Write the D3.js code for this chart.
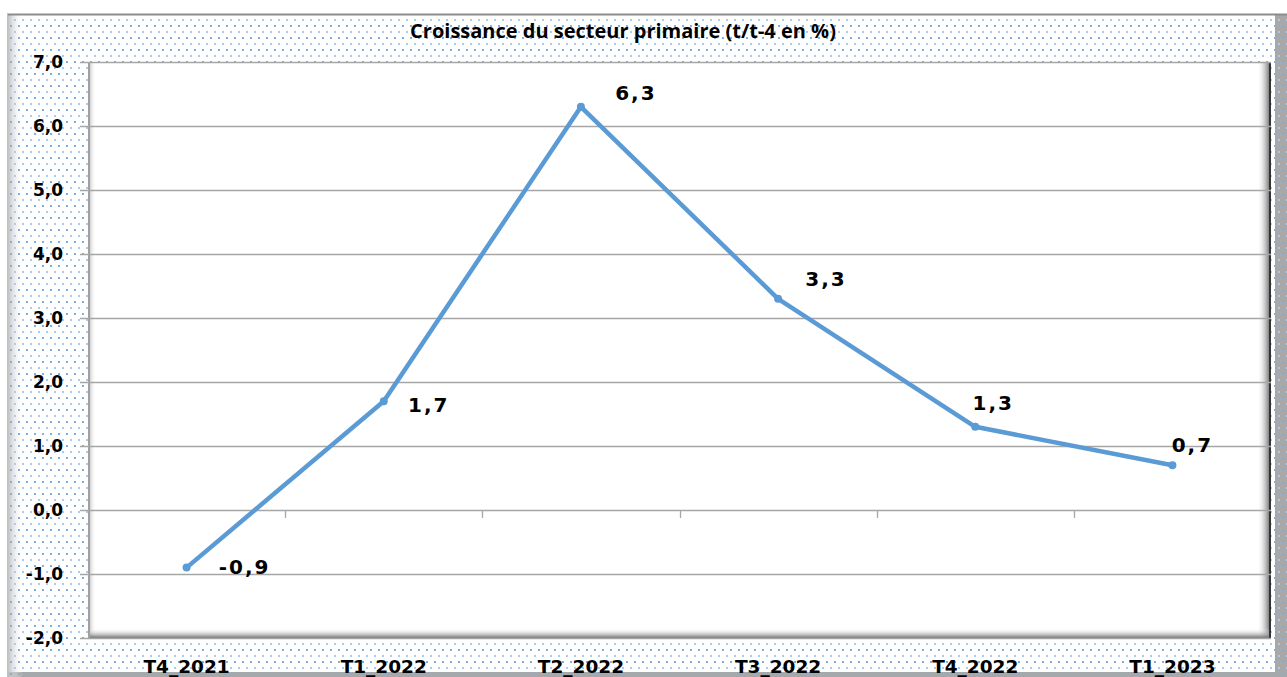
<!DOCTYPE html>
<html lang="fr">
<head>
<meta charset="utf-8">
<script src="https://d3js.org/d3.v7.min.js"></script>
<style>
  body { margin: 0; background: #fff; }
  text { font-family: "DejaVu Sans", sans-serif; font-weight: bold; fill: #000; }
  text.title { font-family: "Open Sans", sans-serif; }
</style>
</head>
<body>
<svg id="chart" width="1287" height="677"></svg>
<script>
// data
const categories = ["T4_2021", "T1_2022", "T2_2022", "T3_2022", "T4_2022", "T1_2023"];
const values = [-0.9, 1.7, 6.3, 3.3, 1.3, 0.7];
const yTicks = [-2, -1, 0, 1, 2, 3, 4, 5, 6, 7];
const title = "Croissance du secteur primaire (t/t-4 en %)";
// label placement (dx, dy from the point), as set by hand in the original
const labelOffsets = [[58, 1], [45, 5], [55, -12], [48, -18], [18, -22], [20, -19]];

const svg = d3.select("#chart");
const W = 1287, H = 677;
const plot = { left: 88, right: 1271, top: 62, bottom: 638 };

const fmt = v => v.toFixed(1).replace(".", ",");

const defs = svg.append("defs");
const pat = defs.append("pattern").attr("id", "dots")
  .attr("width", 8).attr("height", 12).attr("patternUnits", "userSpaceOnUse");
pat.append("rect").attr("x", 2).attr("y", 1).attr("width", 2).attr("height", 2).attr("fill", "#7fb0e0");
pat.append("rect").attr("x", 6).attr("y", 7).attr("width", 2).attr("height", 2).attr("fill", "#a9cbee");

function grad(id, x2, y2, stops) {
  const g = defs.append("linearGradient").attr("id", id)
    .attr("x1", 0).attr("y1", 0).attr("x2", x2).attr("y2", y2);
  stops.forEach(s => g.append("stop").attr("offset", s[0]).attr("stop-color", s[1]).attr("stop-opacity", s[2]));
}
grad("leftEdge", 1, 0, [[0, "#b8b8b8", 1], [1, "#ffffff", 0]]);
grad("plotLeft", 1, 0, [[0, "#9a9a9a", 0.8], [1, "#ffffff", 0]]);
grad("plotRight", 1, 0, [[0, "#ffffff", 0], [1, "#555555", 1]]);
grad("plotBottom", 0, 1, [[0, "#ffffff", 0], [1, "#707070", 1]]);

// outer chart area
svg.append("rect").attr("x", 7).attr("y", 14).attr("width", W - 7).attr("height", H - 14).attr("fill", "#fff");
svg.append("rect").attr("x", 1275).attr("y", 14).attr("width", 12).attr("height", H - 14).attr("fill", "#a8a8a8");
svg.append("rect").attr("x", 7).attr("y", 672).attr("width", W - 7).attr("height", 5).attr("fill", "#a8a8a8");
svg.append("rect").attr("x", 7).attr("y", 14).attr("width", 16).attr("height", H - 14).attr("fill", "url(#leftEdge)");
svg.append("rect").attr("x", 7).attr("y", 14).attr("width", W - 7).attr("height", H - 14).attr("fill", "url(#dots)");
svg.append("line").attr("x1", 7).attr("x2", W).attr("y1", 14.5).attr("y2", 14.5).attr("stroke", "#8c8c8c").attr("stroke-width", 2);
svg.append("line").attr("x1", 7.5).attr("x2", 7.5).attr("y1", 14).attr("y2", H).attr("stroke", "#c0c0c0");

// plot area
svg.append("rect").attr("x", plot.left).attr("y", plot.top)
  .attr("width", plot.right - plot.left).attr("height", plot.bottom - plot.top).attr("fill", "#fff");
svg.append("rect").attr("x", plot.left).attr("y", plot.top).attr("width", 8)
  .attr("height", plot.bottom - plot.top).attr("fill", "url(#plotLeft)");
svg.append("rect").attr("x", plot.right - 14).attr("y", plot.top).attr("width", 14)
  .attr("height", plot.bottom - plot.top).attr("fill", "url(#plotRight)");
svg.append("rect").attr("x", plot.left).attr("y", plot.bottom - 10)
  .attr("width", plot.right - plot.left).attr("height", 10).attr("fill", "url(#plotBottom)");
svg.append("line").attr("x1", plot.right - 1).attr("x2", plot.right - 1)
  .attr("y1", plot.top).attr("y2", plot.bottom).attr("stroke", "#333").attr("stroke-width", 2);
svg.append("line").attr("x1", plot.left + 1).attr("x2", plot.left + 1)
  .attr("y1", plot.top).attr("y2", plot.bottom).attr("stroke", "#a0a0a0").attr("stroke-width", 2);

// scales
const x = d3.scaleBand().domain(categories).range([plot.left, plot.right]);
const y = d3.scaleLinear().domain([-2, 7]).range([plot.bottom, plot.top]);

// gridlines + y ticks
svg.append("g").attr("transform", `translate(${plot.left},0)`)
  .call(d3.axisLeft(y).tickValues(yTicks).tickSize(-(plot.right - plot.left)).tickSizeOuter(0).tickPadding(25).tickFormat(fmt))
  .call(g => g.select(".domain").remove())
  .call(g => g.selectAll(".tick line").attr("stroke", "#a6a6a6").attr("x1", -8).attr("stroke-width", 1.3))
  .call(g => g.selectAll(".tick text").attr("font-size", 17).attr("fill", "#000"));

// zero line category ticks
svg.append("g").selectAll("line").data(categories.slice(1)).join("line")
  .attr("x1", d => Math.round(x(d)) + 0.5).attr("x2", d => Math.round(x(d)) + 0.5)
  .attr("y1", y(0)).attr("y2", y(0) + 8).attr("stroke", "#a6a6a6").attr("stroke-width", 1.3);

// category labels (clipped by the bottom edge, as in the original)
svg.append("g").selectAll("text").data(categories).join("text")
  .attr("x", d => x(d) + x.bandwidth() / 2).attr("y", 673)
  .attr("text-anchor", "middle").attr("font-size", 18.5).text(d => d);

// line
const cx = (d, i) => x(categories[i]) + x.bandwidth() / 2;
svg.append("path").datum(values)
  .attr("d", d3.line().x(cx).y(d => y(d)))
  .attr("fill", "none").attr("stroke", "#5b9bd5").attr("stroke-width", 4.5).attr("stroke-linejoin", "round");
svg.append("g").selectAll("circle").data(values).join("circle")
  .attr("cx", cx).attr("cy", d => y(d)).attr("r", 4).attr("fill", "#5b9bd5");

// data labels
svg.append("g").selectAll("text").data(values).join("text")
  .attr("x", (d, i) => cx(d, i) + labelOffsets[i][0])
  .attr("y", (d, i) => y(d) + labelOffsets[i][1])
  .attr("text-anchor", "middle").attr("dominant-baseline", "middle")
  .attr("font-size", 20).attr("letter-spacing", 2).text(fmt);

// title
svg.append("text").attr("class", "title").attr("x", 623).attr("y", 38).attr("text-anchor", "middle")
  .attr("font-size", 20).text(title);
</script>
</body>
</html>
